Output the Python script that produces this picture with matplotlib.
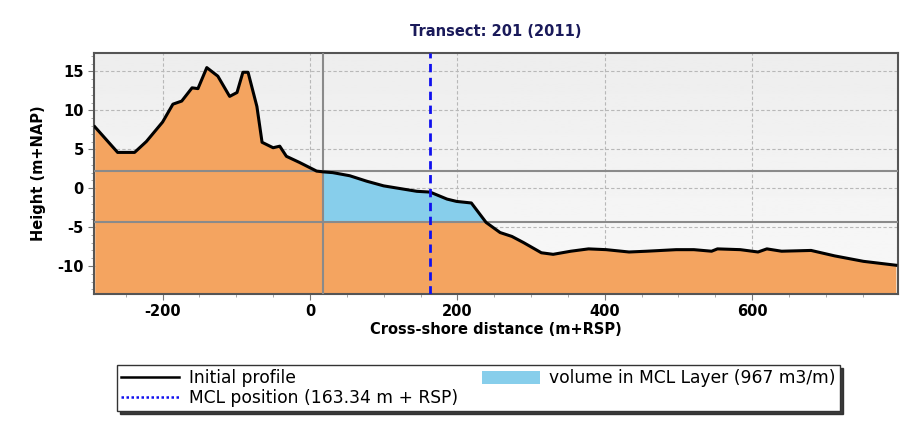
import numpy as np
import matplotlib.pyplot as plt
from matplotlib.lines import Line2D
from matplotlib.patches import Patch

# profile
dist = [-292, -261, -238, -222, -200, -186, -174, -160, -152, -140, -125, -109, -99, -91,
        -84, -72, -65, -50, -41, -32, -14, 9, 18, 31, 54, 77, 100, 145, 163, 186, 199, 219,
        239, 258, 274, 290, 314, 330, 354, 378, 402, 433, 457, 497, 521, 545, 553, 584,
        608, 620, 640, 680, 712, 751, 795]
height = [7.9, 4.6, 4.6, 6.0, 8.5, 10.8, 11.2, 12.9, 12.8, 15.5, 14.4, 11.8, 12.3, 14.9,
          14.9, 10.5, 5.9, 5.2, 5.4, 4.1, 3.3, 2.2, 2.1, 2.0, 1.6, 0.9, 0.3, -0.4, -0.5, -1.4,
          -1.7, -1.9, -4.4, -5.7, -6.2, -7.0, -8.3, -8.5, -8.1, -7.8, -7.9, -8.2, -8.1, -7.9,
          -7.9, -8.1, -7.8, -7.9, -8.2, -7.8, -8.1, -8.0, -8.7, -9.4, -9.9]

mcl_top = 2.2
mcl_bottom = -4.4
mcl_landward = 18
mcl_position = 163.34
volume = 967

x = np.array(dist, dtype=float)
z = np.array(height)
ymin, ymax = -13.6, 17.4
xmin, xmax = -293, 798

plt.rcParams['font.family'] = ['DejaVu Sans']
plt.rcParams['axes.unicode_minus'] = False

fig = plt.figure(figsize=(9.22, 4.33), dpi=100)
ax = fig.add_axes([0.102, 0.321, 0.872, 0.557])

# light gray gradient background
ax.imshow(np.linspace(0.93, 0.975, 100).reshape(-1, 1), extent=[0, 1, 0, 1],
          transform=ax.transAxes, cmap='gray', vmin=0, vmax=1, aspect='auto',
          zorder=0, origin='upper')

ax.fill_between(x, z, ymin, color='#f4a460', zorder=2, linewidth=0)
mask = (x >= mcl_landward) & (z >= mcl_bottom - 1e-9)
ax.fill_between(x, mcl_bottom, np.minimum(z, mcl_top), where=mask, interpolate=True,
                color='#87ceeb', zorder=3, linewidth=0)

ax.axhline(mcl_top, color='#8a8a8a', lw=1.5, zorder=4)
ax.axhline(mcl_bottom, color='#8a8a8a', lw=1.5, zorder=4)
ax.axvline(mcl_landward, color='#8a8a8a', lw=1.5, zorder=4)

ax.plot(x, z, color='black', lw=2.2, zorder=5)
ax.axvline(mcl_position, color='#1010ee', lw=2, ls=(0, (3, 2)), zorder=6)

ax.set_xlim(xmin, xmax)
ax.set_ylim(ymin, ymax)
ax.set_xticks([-200, 0, 200, 400, 600])
ax.set_yticks([-10, -5, 0, 5, 10, 15])
ax.set_xticks(np.arange(-250, 800, 50), minor=True)
ax.set_yticks(np.arange(-13, 18, 1), minor=True)
ax.grid(True, which='major', color='#b8b8b8', ls=(0, (3, 2)), lw=0.8, zorder=1)
ax.set_axisbelow(True)
ax.tick_params(which='major', length=4, color='#777777', labelsize=10.5)
ax.tick_params(which='minor', length=2, color='#999999')
for lab in ax.get_xticklabels() + ax.get_yticklabels():
    lab.set_fontweight('bold')
for s in ax.spines.values():
    s.set_color('#555555')
    s.set_linewidth(1.5)

ax.set_title('Transect: 201 (2011)', fontsize=10.5, fontweight='bold', color='#1a1a5a', pad=12)
ax.set_xlabel('Cross-shore distance (m+RSP)', fontsize=10.5, fontweight='bold', labelpad=2)
ax.set_ylabel('Height (m+NAP)', fontsize=10.5, fontweight='bold', labelpad=8)

handles = [Line2D([], [], color='black', lw=1.8),
           Line2D([], [], color='#1010ee', lw=1.8, ls=(0, (1, 1))),
           Patch(facecolor='#87ceeb', edgecolor='none')]
labels = ['Initial profile', 'MCL position (%.2f m + RSP)' % mcl_position,
          'volume in MCL Layer (%d m3/m)' % volume]
leg = fig.legend(handles, labels, ncol=2, loc='upper left',
                 bbox_to_anchor=(117 / 922, 1 - 365 / 433), fontsize=12.3,
                 frameon=True, fancybox=False, shadow={'color': '0.15', 'alpha': 0.9},
                 edgecolor='#333333',
                 handlelength=3.4, handleheight=0.85, handletextpad=0.55, borderpad=0.25,
                 borderaxespad=0, labelspacing=0.1, columnspacing=1.4)
leg.get_frame().set_linewidth(1)

fig.savefig('out.png', dpi=100)
